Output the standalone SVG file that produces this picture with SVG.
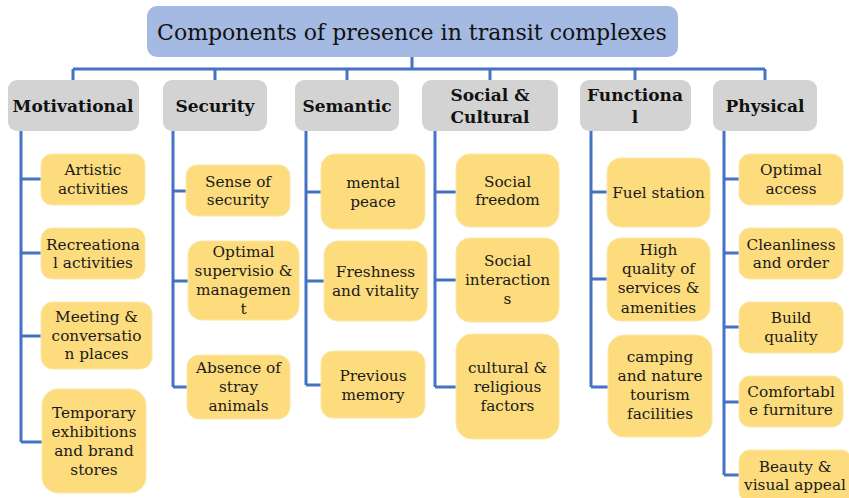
<svg xmlns="http://www.w3.org/2000/svg" width="849" height="498" viewBox="0 0 849 498">
<style>
.title{fill:#A5BAE2}
.cat{fill:#D3D3D3}
.leaf{fill:#FDDC7E;stroke:#FCE7A8;stroke-width:1}
.tt{font-family:"DejaVu Serif","Liberation Serif",serif;font-size:22px;fill:#111;text-anchor:middle}
.ct{font-family:"DejaVu Serif","Liberation Serif",serif;font-size:17px;font-weight:bold;fill:#111;text-anchor:middle}
.lt{font-family:"DejaVu Serif","Liberation Serif",serif;font-size:15.3px;fill:#1a1a1a;text-anchor:middle}
.con{fill:none;stroke:#4472C4;stroke-width:3}
</style>
<rect width="849" height="498" fill="#fff"/>
<g id="connectors" class="con">
<path d="M412,57V69M73,69H765M73,69V80M215,69V80M347,69V80M490,69V80M635,69V80M765,69V80"/>
<path d="M21,131V442M21,179H41M21,253H41M21,336H41M21,442H42"/>
<path d="M173,131V387M173,191H186M173,281H188M173,387H187"/>
<path d="M306,131V385M306,192H321M306,281H324M306,385H321"/>
<path d="M435,131V387M435,192H456M435,280H456M435,387H456"/>
<path d="M591,131V387M591,192H607M591,279H607M591,387H608"/>
<path d="M724,131V475M724,179H739M724,253H739M724,327H739M724,402H739M724,475H739"/>
</g>
<g id="root"><rect class="title" x="147" y="6" width="531" height="51" rx="10"/><text class="tt" x="412" y="40">Components of presence in transit complexes</text></g>
<g id="motivational"><rect class="cat" x="8" y="80" width="131" height="51" rx="9"/><text class="ct" x="73" y="112">Motivational</text></g>
<g id="security"><rect class="cat" x="163" y="80" width="104" height="51" rx="9"/><text class="ct" x="215" y="112">Security</text></g>
<g id="semantic"><rect class="cat" x="295" y="80" width="104" height="51" rx="9"/><text class="ct" x="347" y="112">Semantic</text></g>
<g id="social"><rect class="cat" x="422" y="80" width="136" height="51" rx="9"/><text class="ct" x="490" y="101">Social &amp;</text><text class="ct" x="490" y="123">Cultural</text></g>
<g id="functional"><rect class="cat" x="580" y="80" width="111" height="51" rx="9"/><text class="ct" x="635" y="101">Functiona</text><text class="ct" x="635" y="123">l</text></g>
<g id="physical"><rect class="cat" x="713" y="80" width="104" height="51" rx="9"/><text class="ct" x="765" y="112">Physical</text></g>

<g id="artistic"><rect class="leaf" x="41" y="154" width="104" height="51" rx="11"/><text class="lt" x="93" y="175">Artistic</text><text class="lt" x="93" y="194">activities</text></g>
<g id="recreational"><rect class="leaf" x="41" y="228" width="104" height="51" rx="11"/><text class="lt" x="93" y="250">Recreationa</text><text class="lt" x="93" y="268">l activities</text></g>
<g id="meeting"><rect class="leaf" x="41" y="302" width="111" height="67" rx="12"/><text class="lt" x="96.5" y="322">Meeting &amp;</text><text class="lt" x="96.5" y="341">conversatio</text><text class="lt" x="96.5" y="359">n places</text></g>
<g id="temporary"><rect class="leaf" x="42" y="389" width="104" height="104" rx="16"/><text class="lt" x="94" y="418">Temporary</text><text class="lt" x="94" y="437">exhibitions</text><text class="lt" x="94" y="456">and brand</text><text class="lt" x="94" y="475">stores</text></g>

<g id="sense"><rect class="leaf" x="186" y="165" width="104" height="51" rx="11"/><text class="lt" x="238" y="187">Sense of</text><text class="lt" x="238" y="205">security</text></g>
<g id="supervision"><rect class="leaf" x="188" y="241" width="111" height="79" rx="14"/><text class="lt" x="243.5" y="257">Optimal</text><text class="lt" x="243.5" y="276">supervisio &amp;</text><text class="lt" x="243.5" y="295">managemen</text><text class="lt" x="243.5" y="314">t</text></g>
<g id="absence"><rect class="leaf" x="187" y="355" width="103" height="64" rx="12"/><text class="lt" x="238.5" y="373">Absence of</text><text class="lt" x="238.5" y="392">stray</text><text class="lt" x="238.5" y="411">animals</text></g>

<g id="mental"><rect class="leaf" x="321" y="154" width="104" height="75" rx="14"/><text class="lt" x="373" y="188">mental</text><text class="lt" x="373" y="207">peace</text></g>
<g id="freshness"><rect class="leaf" x="324" y="241" width="103" height="80" rx="14"/><text class="lt" x="375.5" y="277">Freshness</text><text class="lt" x="375.5" y="296">and vitality</text></g>
<g id="memory"><rect class="leaf" x="321" y="351" width="104" height="67" rx="12"/><text class="lt" x="373" y="381">Previous</text><text class="lt" x="373" y="400">memory</text></g>

<g id="freedom"><rect class="leaf" x="456" y="154" width="103" height="73" rx="14"/><text class="lt" x="507.5" y="187">Social</text><text class="lt" x="507.5" y="205">freedom</text></g>
<g id="interactions"><rect class="leaf" x="456" y="238" width="103" height="84" rx="14"/><text class="lt" x="507.5" y="266">Social</text><text class="lt" x="507.5" y="285">interaction</text><text class="lt" x="507.5" y="304">s</text></g>
<g id="religious"><rect class="leaf" x="456" y="334" width="103" height="105" rx="16"/><text class="lt" x="507.5" y="373">cultural &amp;</text><text class="lt" x="507.5" y="392">religious</text><text class="lt" x="507.5" y="411">factors</text></g>

<g id="fuel"><rect class="leaf" x="607" y="158" width="103" height="69" rx="14"/><text class="lt" x="658.5" y="198">Fuel station</text></g>
<g id="quality"><rect class="leaf" x="607" y="238" width="103" height="83" rx="14"/><text class="lt" x="658.5" y="255">High</text><text class="lt" x="658.5" y="274">quality of</text><text class="lt" x="658.5" y="293">services &amp;</text><text class="lt" x="658.5" y="313">amenities</text></g>
<g id="camping"><rect class="leaf" x="608" y="335" width="104" height="102" rx="16"/><text class="lt" x="660" y="362">camping</text><text class="lt" x="660" y="381">and nature</text><text class="lt" x="660" y="400">tourism</text><text class="lt" x="660" y="419">facilities</text></g>

<g id="access"><rect class="leaf" x="739" y="154" width="104" height="51" rx="11"/><text class="lt" x="791" y="175">Optimal</text><text class="lt" x="791" y="194">access</text></g>
<g id="cleanliness"><rect class="leaf" x="739" y="228" width="104" height="51" rx="11"/><text class="lt" x="791" y="250">Cleanliness</text><text class="lt" x="791" y="268">and order</text></g>
<g id="build"><rect class="leaf" x="739" y="302" width="104" height="51" rx="11"/><text class="lt" x="791" y="323">Build</text><text class="lt" x="791" y="342">quality</text></g>
<g id="furniture"><rect class="leaf" x="739" y="376" width="104" height="51" rx="11"/><text class="lt" x="791" y="397">Comfortabl</text><text class="lt" x="791" y="415">e furniture</text></g>
<g id="beauty"><rect class="leaf" x="739" y="450" width="113" height="52" rx="11"/><text class="lt" x="795" y="472">Beauty &amp;</text><text class="lt" x="795" y="490">visual appeal</text></g>
</svg>
